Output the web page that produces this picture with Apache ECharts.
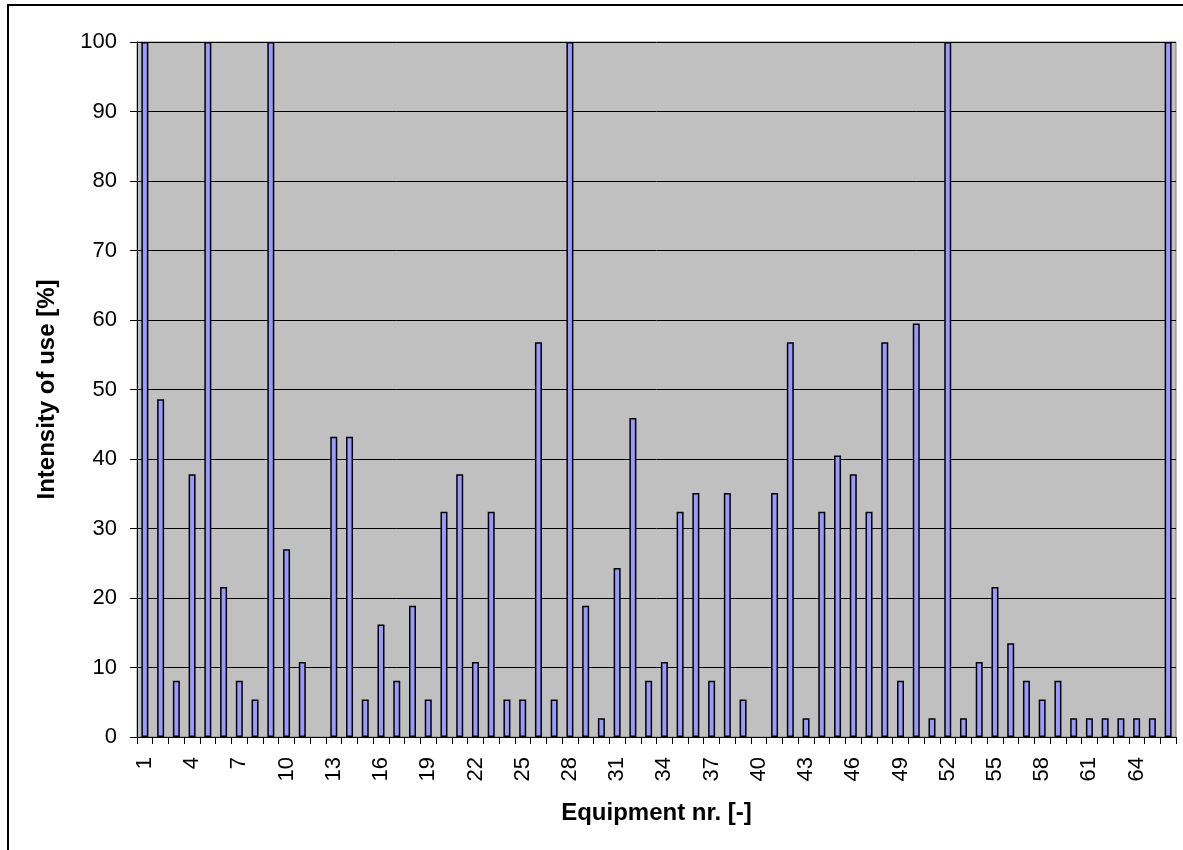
<!DOCTYPE html>
<html>
<head>
<meta charset="utf-8">
<script src="https://cdn.jsdelivr.net/npm/echarts@6/dist/echarts.min.js"></script>
<style>
html,body{margin:0;padding:0;background:#fff;}
#chart{width:1183px;height:850px;}
</style>
</head>
<body>
<div id="chart"></div>
<script>
var categories = [];
for (var i = 1; i <= 66; i++) categories.push(String(i));

var intensity = [
  100, 48.6, 8.1, 37.8, 100, 21.6, 8.1, 5.4, 100, 27.0,
  10.8, 0, 43.2, 43.2, 5.4, 16.2, 8.1, 18.9, 5.4, 32.4,
  37.8, 10.8, 32.4, 5.4, 5.4, 56.8, 5.4, 100, 18.9, 2.7,
  24.3, 45.9, 8.1, 10.8, 32.4, 35.1, 8.1, 35.1, 5.4, 0,
  35.1, 56.8, 2.7, 32.4, 40.5, 37.8, 32.4, 56.8, 8.1, 59.5,
  2.7, 100, 2.7, 10.8, 21.6, 13.5, 8.1, 5.4, 8.1, 2.7,
  2.7, 2.7, 2.7, 2.7, 2.7, 100
];

var yTicks = [0, 10, 20, 30, 40, 50, 60, 70, 80, 90, 100];

var barData = intensity.map(function (v) {
  return v === 0 ? {value: v, itemStyle: {borderWidth: 0}} : v;
});

var chart = echarts.init(document.getElementById('chart'), null, {renderer: 'canvas'});
var font = 'Liberation Sans, Arial, sans-serif';
chart.setOption({
  animation: false,
  backgroundColor: '#ffffff',
  graphic: [{
    type: 'rect',
    shape: {x: 8, y: 5, width: 1200, height: 900},
    style: {fill: 'none', stroke: '#000', lineWidth: 2},
    silent: true
  }],
  grid: {
    left: 137, top: 42, right: 7, bottom: 113,
    show: true, backgroundColor: '#c0c0c0', borderColor: '#808080', borderWidth: 1,
    containLabel: false
  },
  xAxis: {
    type: 'category',
    data: categories,
    boundaryGap: true,
    name: 'Equipment nr. [-]',
    nameLocation: 'middle',
    nameGap: 64,
    nameTextStyle: {fontFamily: font, fontSize: 24, fontWeight: 'bold', color: '#000'},
    axisLine: {lineStyle: {color: '#000', width: 1}},
    axisTick: {show: true, interval: 0, length: 7, lineStyle: {color: '#000'}},
    axisLabel: {interval: 2, rotate: 90, margin: 20, fontFamily: font, fontSize: 22, color: '#000'},
    splitLine: {show: false}
  },
  yAxis: {
    type: 'value',
    min: yTicks[0], max: yTicks[yTicks.length - 1], interval: 10,
    name: 'Intensity of use [%]',
    nameLocation: 'middle',
    nameGap: 78,
    nameTextStyle: {fontFamily: font, fontSize: 24, fontWeight: 'bold', color: '#000'},
    axisLine: {show: true, lineStyle: {color: '#000', width: 1}},
    axisTick: {show: true, length: 7, lineStyle: {color: '#000'}},
    axisLabel: {margin: 20, fontFamily: font, fontSize: 22, color: '#000'},
    splitLine: {show: true, lineStyle: {color: '#000', width: 1}}
  },
  series: [{
    type: 'bar',
    data: barData,
    barWidth: 7,
    itemStyle: {color: '#9999ff', borderColor: '#000', borderWidth: 1.5}
  }]
});
</script>
</body>
</html>
